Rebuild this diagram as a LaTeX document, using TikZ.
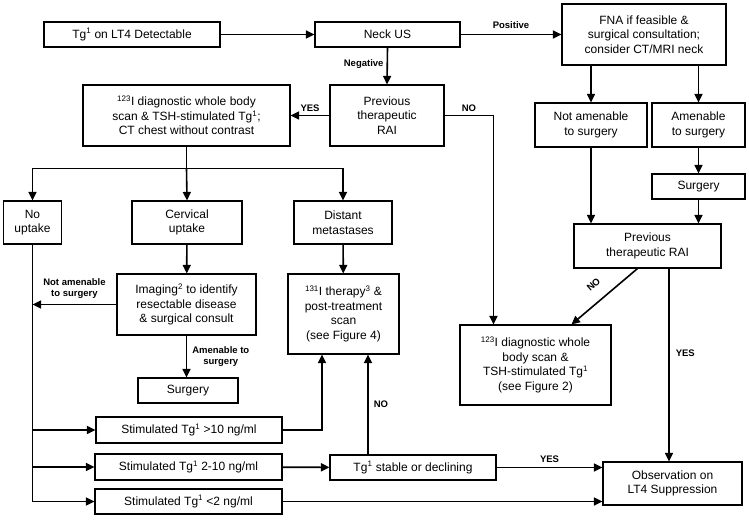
\documentclass[tikz,border=0pt]{standalone}
\usepackage{fontspec}
\setmainfont{Liberation Sans}
\usetikzlibrary{arrows.meta}
\begin{document}
\begin{tikzpicture}[x=1pt,y=-1pt,
  box/.style={draw,line width=1.1pt,align=center,inner sep=0pt,font=\fontsize{12}{14.5}\selectfont},
  arr/.style={line width=1.6pt,-{Triangle[length=8.5pt,width=8pt]}},
  lin/.style={line width=1.6pt},
  lbl/.style={font=\fontsize{9.5}{11}\selectfont\bfseries,inner sep=0pt,align=center}]
\useasboundingbox (0,0) rectangle (749,519);

\node[box,minimum width=176pt,minimum height=25pt] (tg) at (132,34.5) {Tg\textsuperscript{1} on LT4 Detectable};
\node[box,minimum width=145pt,minimum height=25pt] (neck) at (387.5,34.5) {Neck US};
\node[box,minimum width=164pt,minimum height=61pt] (fna) at (644,34.5) {FNA if feasible \&\\surgical consultation;\\consider CT/MRI neck};
\node[box,minimum width=114pt,minimum height=61pt] (prevA) at (387,115.5) {Previous\\therapeutic\\RAI};
\node[box,minimum width=207pt,minimum height=61pt] (scanA) at (186.5,115.5) {\textsuperscript{123}I diagnostic whole body\\scan \& TSH-stimulated Tg\textsuperscript{1};\\CT chest without contrast};
\node[box,minimum width=112pt,minimum height=44pt] (notam) at (591,125) {Not amenable\\to surgery};
\node[box,minimum width=93pt,minimum height=44pt] (amen) at (698.5,125) {Amenable\\to surgery};
\node[box,minimum width=93pt,minimum height=25pt] (surgR) at (698.5,186.5) {Surgery};
\node[box,minimum width=147pt,minimum height=44pt] (prevB) at (647.5,246) {Previous\\therapeutic RAI};
\node[box,minimum width=151pt,minimum height=80pt] (scanB) at (535.5,365) {\textsuperscript{123}I diagnostic whole\\body scan \&\\TSH-stimulated Tg\textsuperscript{1}\\(see Figure 2)};
\node[box,minimum width=58pt,minimum height=43pt] (noup) at (32.5,222.5) {No\\uptake};
\node[box,minimum width=110pt,minimum height=43pt] (cerv) at (187,222.5) {Cervical\\uptake};
\node[box,minimum width=98pt,minimum height=43pt] (dist) at (343,222.5) {Distant\\metastases};
\node[box,minimum width=139pt,minimum height=61pt] (imag) at (186.5,304.5) {Imaging\textsuperscript{2} to identify\\resectable disease\\\& surgical consult};
\node[box,minimum width=111pt,minimum height=80pt] (iod) at (343.5,314) {\textsuperscript{131}I therapy\textsuperscript{3} \&\\post-treatment\\scan\\(see Figure 4)};
\node[box,minimum width=100pt,minimum height=25pt] (surgL) at (188,390.5) {Surgery};
\node[box,minimum width=186pt,minimum height=26pt] (st10) at (189,430) {Stimulated Tg\textsuperscript{1} >10 ng/ml};
\node[box,minimum width=187pt,minimum height=26pt] (st2) at (188.5,467) {Stimulated Tg\textsuperscript{1} 2-10 ng/ml};
\node[box,minimum width=187pt,minimum height=25pt] (stl2) at (188.5,501.5) {Stimulated Tg\textsuperscript{1} <2 ng/ml};
\node[box,minimum width=166pt,minimum height=25pt] (stable) at (413,467.5) {Tg\textsuperscript{1} stable or declining};
\node[box,minimum width=139pt,minimum height=43pt] (obs) at (672.5,483.5) {Observation on\\LT4 Suppression};

\draw[arr] (tg) -- (neck);
\draw[arr] (neck) -- node[lbl,above=5pt]{Positive} (fna.west |- neck.east);
\draw[arr] (neck.south) -- node[lbl,left=3pt,pos=0.45]{Negative} (prevA.north);
\draw[arr] (prevA.west) -- node[lbl,above=3pt]{YES} (scanA.east);
\draw[arr] (prevA.east) -| node[lbl,above=3pt,pos=0.25]{NO} ([xshift=34pt]scanB.north west);
\draw[arr] (notam.north |- fna.south) -- (notam.north);
\draw[arr] (amen.north |- fna.south) -- (amen.north);
\draw[arr] (amen) -- (surgR);
\draw[arr] (notam.south) -- (notam.south |- prevB.north);
\draw[arr] (surgR.south) -- (surgR.south |- prevB.north);
\draw[arr] ([xshift=-10pt]prevB.south) -- ([xshift=36pt]scanB.north);
\node[lbl,rotate=41] (nodiag) at (593.5,284.5) {NO};
\draw[arr] ([xshift=21.5pt]prevB.south) coordinate (yb) -- node[lbl,right=6pt,pos=0.44]{YES} (yb |- obs.north);

\draw[lin] (scanA.south) -- ++(0,22) coordinate (split);
\draw[arr] (split) -| (noup.north);
\draw[arr] (split) -| (dist.north);
\draw[arr] (split) -- (cerv.north);
\draw[arr] (cerv) -- (imag);
\draw[arr] (dist) -- (iod);
\draw[arr] (imag.west) -- node[lbl,above=5pt]{Not amenable\\to surgery} (noup.south |- imag.west);
\draw[arr] (imag.south) -- node[lbl,right=5pt]{Amenable to\\surgery} (imag.south |- surgL.north);

\draw[arr] (noup.south) |- (stl2.west);
\draw[arr] (noup.south |- st10.west) -- (st10.west);
\draw[arr] (noup.south |- st2.west) -- (st2.west);
\draw[arr] (st10.east) -| ([xshift=-21.5pt]iod.south);
\draw[arr] (st2) -- (stable);
\draw[arr] ([xshift=-45pt]stable.north) coordinate (nb) -- node[lbl,right=5pt]{NO} (nb |- iod.south);
\draw[arr] (stable.east) -- node[lbl,above=4pt]{YES} (stable.east -| obs.west);
\draw[arr] (stl2.east) -- (stl2.east -| obs.west);
\end{tikzpicture}
\end{document}
